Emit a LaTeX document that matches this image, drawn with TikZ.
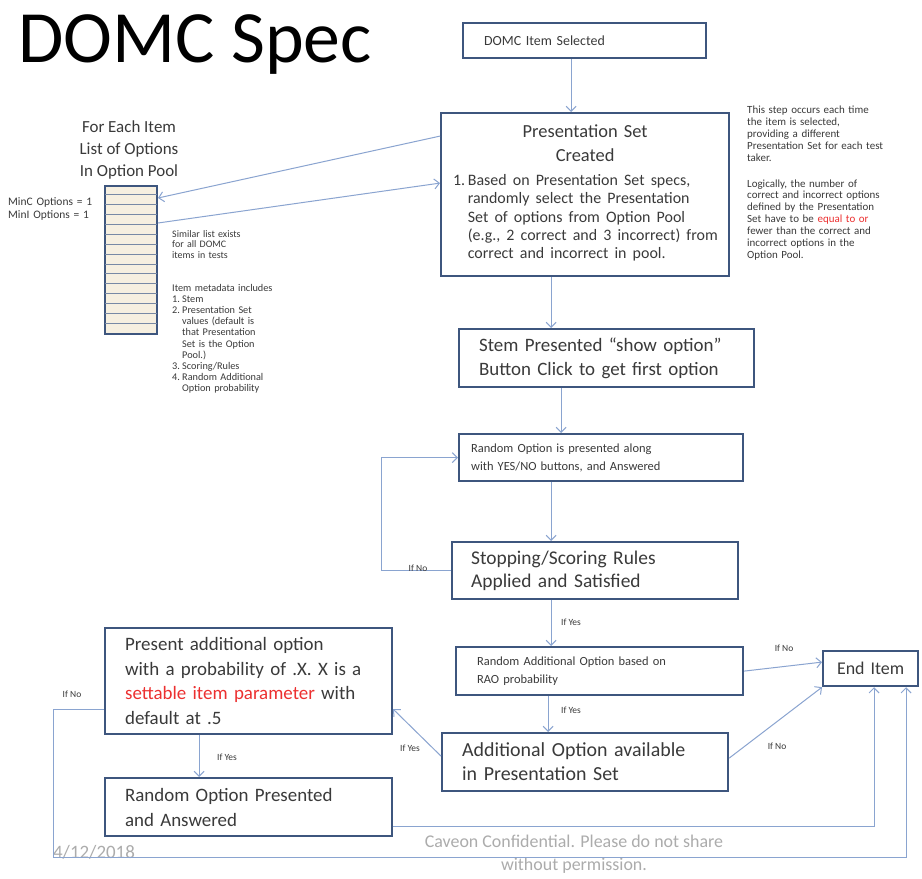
\documentclass[tikz,border=0pt]{standalone}
\usepackage{fontspec}
\setmainfont{Carlito}
\usetikzlibrary{calc,arrows.meta}
\definecolor{boxline}{RGB}{62,86,126}
\definecolor{linkc}{RGB}{138,164,208}
\definecolor{inkc}{RGB}{58,58,58}
\definecolor{poolfill}{RGB}{246,239,224}
\definecolor{hot}{RGB}{236,48,48}
\definecolor{faint}{RGB}{172,172,172}
\newcommand{\txtsize}[2]{\fontsize{#1}{#2}\selectfont}
\newcommand{\itm}[1]{\makebox[10bp][l]{#1}}
\tikzset{stepbox/.style={draw=boxline,line width=2.2bp,fill=white,text=inkc,anchor=north west,inner ysep=0pt,align=left}}
\tikzset{link/.style={linkc,line width=1bp,-{Straight Barb[length=5bp,width=10bp]}}}
\tikzset{cond/.style={text=inkc,inner sep=0pt,font=\txtsize{9.5}{11}}}
\tikzset{note/.style={text=inkc,anchor=north west,align=left,inner sep=0pt}}

\begin{document}
\begin{tikzpicture}[x=1bp,y=-1bp]
	\useasboundingbox[fill=white] (0,0) rectangle (922,879);

	\node[anchor=base west,inner sep=0pt,font=\txtsize{74}{80}] (title) at (18,62) {DOMC Spec};

	% main column
	\node[stepbox,minimum width=243bp,minimum height=35bp,inner xsep=21bp,text width=201bp,font=\txtsize{14}{18}] (selected) at (462,22) {DOMC Item Selected};
	\node[stepbox,minimum width=288bp,minimum height=163bp,inner xsep=12bp,text width=264bp,align=center,font=\txtsize{18.5}{24}] (presset) at (440,112)
		{Presentation Set\\Created\\
		{\txtsize{16}{18.5}\begin{tabular}[t]{@{}l@{\,}l@{}}
			1. & Based on Presentation Set specs,\\
			   & randomly select the Presentation\\
			   & Set of options from Option Pool\\
			   & (e.g., 2 correct and 3 incorrect) from\\
			   & correct and incorrect in pool.
		\end{tabular}}};
	\node[stepbox,minimum width=275bp,minimum height=58bp,inner xsep=20bp,text width=255bp,font=\txtsize{19}{24}] (stem) at (458,328)
		{Stem Presented “show option”\\Button Click to get first option};
	\node[stepbox,minimum width=284bp,minimum height=47bp,inner xsep=12bp,text width=260bp,font=\txtsize{12.5}{18}] (randopt) at (458,433)
		{Random Option is presented along\\with YES/NO buttons, and Answered};
	\node[stepbox,minimum width=286bp,minimum height=57bp,inner xsep=19bp,text width=248bp,font=\txtsize{19.5}{23}] (stoprules) at (451,541)
		{Stopping/Scoring Rules\\Applied and Satisfied};
	\node[stepbox,minimum width=287bp,minimum height=48bp,inner xsep=21bp,text width=245bp,font=\txtsize{12.5}{18}] (raoprob) at (455,646)
		{Random Additional Option based on\\RAO probability};
	\node[stepbox,minimum width=286bp,minimum height=58bp,inner xsep=20bp,text width=246bp,font=\txtsize{20}{24}] (addavail) at (441,732)
		{Additional Option available\\in Presentation Set};
	\node[stepbox,minimum width=95bp,minimum height=35bp,inner xsep=6bp,text width=83bp,align=center,font=\txtsize{18}{22}] (enditem) at (822,650) {End Item};

	% left column
	\node[stepbox,minimum width=287bp,minimum height=106bp,inner xsep=20bp,text width=247bp,font=\txtsize{19}{24.6}] (presadd) at (104,627)
		{Present additional option\\with a probability of .X. X is a\\\textcolor{hot}{settable item parameter} with\\default at .5};
	\node[stepbox,minimum width=287bp,minimum height=58bp,inner xsep=20bp,text width=247bp,font=\txtsize{19}{25}] (randpres) at (104,777)
		{Random Option Presented\\and Answered};

	% option pool
	\node[text=inkc,align=center,inner sep=0pt,font=\txtsize{17}{22}] (poolhead) at (129,150) {For Each Item\\List of Options\\In Option Pool};
	\node[draw=boxline,line width=2bp,fill=poolfill,minimum width=52bp,minimum height=148bp,anchor=north west,inner sep=0pt] (pool) at (104,185) {};
	\foreach \r in {1,...,14}
		\draw[boxline!70,line width=0.8bp] ($(pool.north west)+(1,\r*9.87)$) -- ($(pool.north east)+(-1,\r*9.87)$);
	\node[note,text width=92bp,font=\txtsize{11.5}{13}] (minopts) at (8,197) {MinC Options = 1\\MinI Options = 1};
	\node[note,text width=80bp,font=\txtsize{10}{10.5}] (simnote) at (172,230) {Similar list exists\\for all DOMC\\items in tests};
	\node[note,text width=120bp,font=\txtsize{10.3}{11.2}] (metanote) at (172,284)
		{Item metadata includes\\
		\itm{1.}Stem\\
		\itm{2.}Presentation Set\\
		\itm{}values (default is\\
		\itm{}that Presentation\\
		\itm{}Set is the Option\\
		\itm{}Pool.)\\
		\itm{3.}Scoring/Rules\\
		\itm{4.}Random Additional\\
		\itm{}Option probability};
	\node[note,text width=170bp,font=\txtsize{11}{11.9}] (stepnote) at (747,106)
		{This step occurs each time\\the item is selected,\\providing a different\\Presentation Set for each test\\taker.\\[14bp]
		Logically, the number of\\correct and incorrect options\\defined by the Presentation\\Set have to be \textcolor{hot}{equal to or}\\fewer than the correct and\\incorrect options in the\\Option Pool.};

	% footer
	\node[text=faint,inner sep=0pt,font=\txtsize{19}{22}] (date) at (94,852) {4/12/2018};
	\node[text=faint,align=center,inner sep=0pt,font=\txtsize{18}{23}] (confid) at (574,854) {Caveon Confidential. Please do not share\\without permission.};

	% connectors
	\draw[link] ([xshift=-13.5bp]selected.south) -- ([xshift=-13.5bp]selected.south |- presset.north);
	\draw[link] ([xshift=-34bp]presset.south) -- ([xshift=-34bp]presset.south |- stem.north);
	\draw[link] ([xshift=-45.5bp]stem.south) -- ([xshift=-45.5bp]stem.south |- randopt.north);
	\draw[link] ([xshift=-50bp]randopt.south) -- ([xshift=-50bp]randopt.south |- stoprules.north);
	\draw[link] (stoprules.west) -- ++(-70,0) |- (randopt.west);
	\draw[link] ([xshift=-44bp]stoprules.south) -- ([xshift=-44bp]stoprules.south |- raoprob.north);
	\draw[link] ([xshift=-51.5bp]raoprob.south) -- ([xshift=-51.5bp]raoprob.south |- addavail.north);
	\draw[link] (raoprob.east) -- ([yshift=6.5bp]enditem.west);
	\draw[link] ([yshift=4bp]addavail.east) -- (enditem.south west);
	\draw[link] ([yshift=6bp]addavail.west) -- ([yshift=26bp]presadd.south east);
	\draw[link] ([xshift=-49.5bp]presadd.south) -- ([xshift=-49.5bp]presadd.south |- randpres.north);
	\draw[link] ([yshift=-28bp]presadd.west) -| ++(-51,148) -| ([xshift=35.5bp]enditem.south);
	\draw[link] ([yshift=-19bp]randpres.east) -| ([xshift=3.5bp]enditem.south);
	\draw[link] ([yshift=58.5bp]presset.west) -- ([yshift=62bp]pool.east);
	\draw[link] ([yshift=37bp]pool.east) -- ([yshift=11.5bp]presset.west);

	% branch labels
	\node[cond] (ifnoloop) at (418,568) {If No};
	\node[cond] (ifyesrao) at (571,622) {If Yes};
	\node[cond] (ifyesadd) at (571,710) {If Yes};
	\node[cond] (ifnorao) at (784,648) {If No};
	\node[cond] (ifnoadd) at (777,746) {If No};
	\node[cond] (ifyespres) at (410,748) {If Yes};
	\node[cond] (ifyesrand) at (227,757) {If Yes};
	\node[cond] (ifnopres) at (72,694) {If No};

\end{tikzpicture}
\end{document}
